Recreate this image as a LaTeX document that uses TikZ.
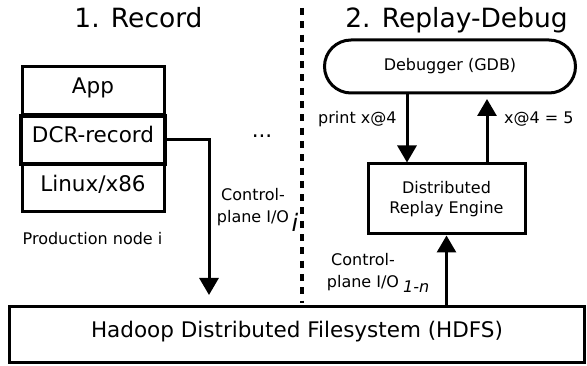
\documentclass[tikz,border=0pt]{standalone}
\usepackage{fontspec}
\setmainfont{DejaVu Sans}
\usetikzlibrary{arrows.meta}
\begin{document}
\begin{tikzpicture}[x=1pt,y=-1pt,
  box/.style={draw, line width=3pt, inner sep=0pt, font=\fontsize{21.5}{24}\selectfont, text height=0.76em, text depth=0.24em},
  lbl/.style={font=\fontsize{16}{22}\selectfont, inner sep=0pt},
  ttl/.style={font=\fontsize{26.5}{30}\selectfont, anchor=base, inner sep=0pt},
  arr/.style={line width=3pt, -{Triangle[length=17pt,width=19pt]}},
  sep/.style={line width=3.5pt, dash pattern=on 7pt off 6.3pt}]
\useasboundingbox (0,0) rectangle (587,366);
% titles
\node[ttl] (t1) at (138.5,28) {1. Record};
\node[ttl] (t2) at (456.5,28) {2. Replay-Debug};
% separator
\coordinate (dtop) at (302,8);
\coordinate (dbot) at (302,303);
\draw[sep] (dtop) -- (dbot);
% production node stack
\node[box, minimum width=142pt, minimum height=48pt] (app) at (93,91) {App};
\node[box, minimum width=142pt, minimum height=47pt] (linux) at (93,188.5) {Linux/x86};
\node[box, line width=4pt, minimum width=144pt, minimum height=48pt] (dcr) at (93,140) {DCR-record};
\node[lbl, anchor=base] (prod) at (92.5,245) {Production node i};
\node[font=\fontsize{21.5}{24}\selectfont, anchor=base, inner sep=0pt] (dots) at (262,138) {...};
% replay side
\node[draw, line width=3pt, rounded corners=26.5pt, minimum width=251pt, minimum height=53pt, lbl] (dbg) at (450,66.5) {Debugger (GDB)};
\node[draw, line width=3pt, minimum width=157pt, minimum height=70pt, inner sep=0pt, align=center, font=\fontsize{16}{20.5}\selectfont] (eng) at (446.5,199) {Distributed\\Replay Engine};
% HDFS
\node[box, minimum width=575pt, minimum height=56pt, text depth=0.3em] (hdfs) at (297,335) {Hadoop Distributed Filesystem (HDFS)};
% connectors
\coordinate (xd) at (407,0);
\coordinate (xu) at (487,0);
\coordinate (uptip) at (487,99);
\coordinate (rectip) at (209,295);
\draw[arr] (dbg.south -| xd) -- (eng.north -| xd);
\draw[arr] (eng.north -| xu) -- (uptip);
\draw[arr] (hdfs.north -| eng.south) -- (eng.south);
\draw[arr] (dcr.east) -| (rectip);
% labels
\node[lbl, anchor=base west] (pr) at (318,123.5) {print x@4};
\node[lbl, anchor=base west] (res) at (504,123.5) {x@4 = 5};
\node[lbl, align=center] (cpl) at (253,207) {Control-\\plane I/O};
\node[font=\fontsize{24}{24}\selectfont\itshape, anchor=base, inner sep=0pt] (subi) at (295,232) {i};
\node[lbl, align=center] (cpr) at (363,272.5) {Control-\\plane I/O};
\node[font=\fontsize{16}{16}\selectfont\itshape, anchor=base west, inner sep=0pt] (subn) at (403,293) {1-n};
\end{tikzpicture}
\end{document}
